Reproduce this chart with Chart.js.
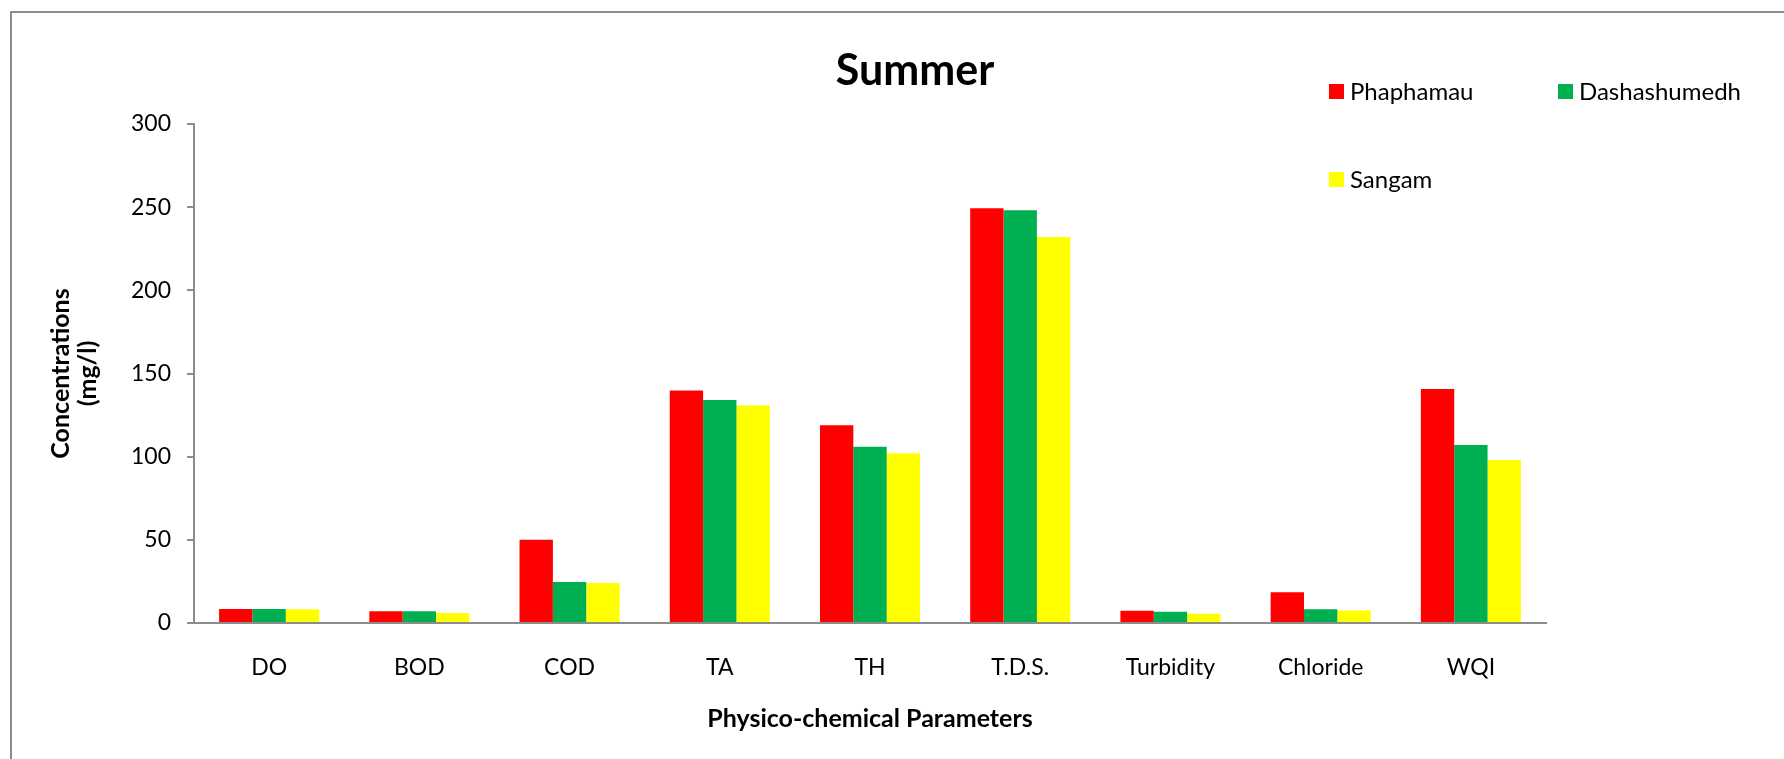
<!DOCTYPE html>
<html>
<head>
<meta charset="utf-8">
<script src="https://cdn.jsdelivr.net/npm/chart.js@4"></script>
<style>
  html, body { margin: 0; padding: 0; background: #ffffff; }
  #wrap { position: relative; width: 1784px; height: 759px; }
</style>
</head>
<body>
<div id="wrap"><canvas id="c"></canvas></div>
<script>
const categories = ['DO', 'BOD', 'COD', 'TA', 'TH', 'T.D.S.', 'Turbidity', 'Chloride', 'WQI'];
const seriesNames = ['Phaphamau', 'Dashashumedh', 'Sangam'];
const phaphamau = [8.4, 7, 50, 139.8, 118.9, 249.4, 7.3, 18.5, 140.7];
const dashashumedh = [8.4, 7, 24.7, 134.1, 106, 248.2, 6.8, 8.2, 107];
const sangam = [8.3, 6, 24, 130.7, 102, 232.1, 5.5, 7.5, 98];
const yTicks = [0, 50, 100, 150, 200, 250, 300];
const chartTitle = 'Summer';
const xTitle = 'Physico-chemical Parameters';
const yTitle = ['Concentrations', '(mg/l)'];

const colors = ['#FF0000', '#00B050', '#FFFF00'];
const FONT = 'Lato, "Open Sans", sans-serif';

const framePlugin = {
  id: 'frame',
  beforeDraw(chart) {
    const ctx = chart.ctx;
    ctx.save();
    ctx.fillStyle = '#ffffff';
    ctx.fillRect(0, 0, chart.width, chart.height);
    ctx.strokeStyle = '#8c8c8c';
    ctx.lineWidth = 2;
    ctx.strokeRect(11, 12, 1800, 800);
    ctx.restore();
  },
  afterDraw(chart) {
    const ctx = chart.ctx;
    ctx.save();
    // title
    ctx.fillStyle = '#000000';
    ctx.font = 'bold 43px ' + FONT;
    ctx.textAlign = 'center';
    ctx.textBaseline = 'middle';
    ctx.fillText(chartTitle, 915, 71);
    // legend (from chart datasets)
    const pos = [[1329, 91.5], [1558, 91.5], [1329, 179.5]];
    ctx.font = '24px ' + FONT;
    ctx.textAlign = 'left';
    chart.data.datasets.forEach((ds, i) => {
      const [x, y] = pos[i];
      ctx.fillStyle = ds.backgroundColor;
      ctx.fillRect(x, y - 7.5, 15, 15);
      ctx.fillStyle = '#000000';
      ctx.fillText(ds.label, x + 21, y + 1);
    });
    ctx.restore();
  }
};

new Chart(document.getElementById('c'), {
  type: 'bar',
  data: {
    labels: categories,
    datasets: [
      { label: seriesNames[0], data: phaphamau, backgroundColor: colors[0] },
      { label: seriesNames[1], data: dashashumedh, backgroundColor: colors[1] },
      { label: seriesNames[2], data: sangam, backgroundColor: colors[2] }
    ]
  },
  options: {
    responsive: true,
    maintainAspectRatio: false,
    devicePixelRatio: 1,
    animation: false,
    layout: { padding: { left: 0, top: 124, right: 238, bottom: 0 } },
    datasets: { bar: { categoryPercentage: 0.666, barPercentage: 1.0, borderWidth: 0 } },
    plugins: {
      legend: { display: false },
      title: { display: false },
      tooltip: { enabled: false }
    },
    scales: {
      x: {
        grid: { display: false, drawTicks: false },
        border: { display: true, color: '#8c8c8c', width: 2 },
        ticks: { color: '#000000', font: { family: FONT, size: 23 }, padding: 31, maxRotation: 0, autoSkip: false },
        title: { display: true, text: xTitle, color: '#000000', font: { family: FONT, size: 25, weight: 'bold' }, padding: { top: 0, bottom: 25 } },
        afterFit(scale) { scale.height = 136; }
      },
      y: {
        min: 0,
        max: 300,
        afterBuildTicks(scale) { scale.ticks = yTicks.map(v => ({ value: v })); },
        grid: { display: true, drawOnChartArea: false, drawTicks: true, tickLength: 7, color: '#8c8c8c', lineWidth: 2 },
        border: { display: true, color: '#8c8c8c', width: 2 },
        ticks: { color: '#000000', font: { family: FONT, size: 23 }, padding: 16 },
        title: { display: true, text: yTitle, color: '#000000', font: { family: FONT, size: 25, weight: 'bold', lineHeight: 1.1 }, padding: { top: 47, bottom: 0 } },
        afterFit(scale) { scale.width = 194; }
      }
    }
  },
  plugins: [framePlugin]
});
</script>
</body>
</html>
